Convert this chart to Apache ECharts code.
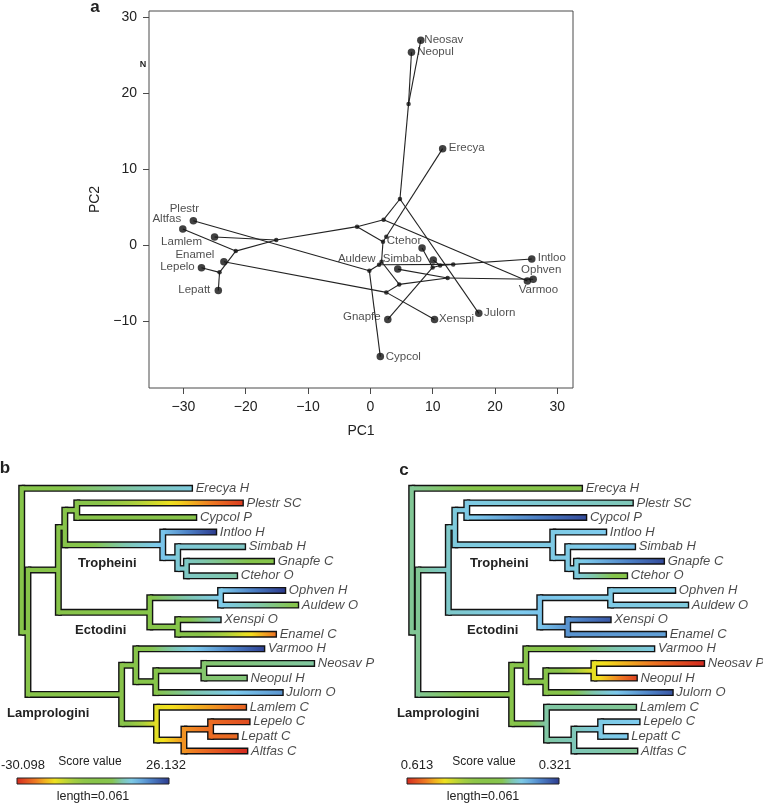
<!DOCTYPE html>
<html><head><meta charset="utf-8">
<script src="https://cdn.jsdelivr.net/npm/echarts@6/dist/echarts.min.js"></script>
<style>html,body{margin:0;padding:0;background:#fff}#chart{width:763px;height:804px}</style>
</head><body><div id="chart"></div>
<script>
// ---------------- DATA ----------------
// nodes 0..18 are tips (top to bottom in the trees), 19..36 internal nodes
const nodeNames = ['Erecya','Plestr','Cypcol','Intloo','Simbab','Gnapfe','Ctehor','Ophven','Auldew','Xenspi','Enamel','Varmoo','Neosav','Neopul','Julorn','Lamlem','Lepelo','Lepatt','Altfas',
  'root','n1','n2','n3','n4','n5','n5a','n5b','n6','n6a','n6b','n7','n7a','n7b','n7c','n7d','n7e','n7f'];
const tipLabels = ['Erecya H','Plestr SC','Cypcol P','Intloo H','Simbab H','Gnapfe C','Ctehor O','Ophven H','Auldew O','Xenspi O','Enamel C','Varmoo H','Neosav P','Neopul H','Julorn O','Lamlem C','Lepelo C','Lepatt C','Altfas C'];
const parentOf = [19,23,23,24,25,26,26,28,28,29,29,31,33,33,32,34,36,36,35,
  -1,19,20,21,22,22,24,25,21,27,27,20,30,31,32,30,34,35];
const branchLength = [0.0682,0.0665,0.0478,0.0213,0.0269,0.0350,0.0202,0.0258,0.0310,0.0171,0.0393,0.0514,0.0441,0.0171,0.0508,0.0358,0.0155,0.0107,0.0253,
  0,0.0025,0.0122,0.0026,0.0048,0.0393,0.0060,0.0035,0.0367,0.0284,0.0112,0.0376,0.0057,0.0080,0.0193,0.0140,0.0110,0.0107];
const pc1 = [11.6,-28.4,1.6,25.9,10.1,2.8,8.3,26.132,4.4,10.3,-23.5,25.2,8.1,6.6,17.4,-25.0,-27.1,-24.4,-30.098,
  2.56,2.03,1.8,1.4,-0.16,13.3,11.2,10.0,4.64,12.4,2.56,-2.13,2.13,4.75,6.13,-15.1,-21.6,-24.2];
const pc2 = [12.7,3.2,-14.7,-1.85,-1.98,-9.8,-0.4,-4.5,-3.17,-9.8,-2.2,-4.75,27.0,25.4,-9.0,1.05,-3.0,-6.0,2.1,
  1.1,0.44,-2.2,-2.6,-3.4,-2.55,-2.7,-2.95,-5.19,-4.35,-6.24,2.42,3.34,6.07,18.6,0.66,-0.8,-3.6];
const scoreC = [0.461,0.409,0.330,0.391,0.385,0.330,0.444,0.394,0.397,0.336,0.371,0.394,0.613,0.601,0.336,0.417,0.391,0.391,0.417,
  0.417,0.417,0.403,0.397,0.394,0.394,0.394,0.397,0.388,0.394,0.365,0.447,0.452,0.458,0.537,0.414,0.409,0.394];
const xTicks = [-30,-20,-10,0,10,20,30];
const yTicks = [-10,0,10,20,30];
const rangeB = [-30.098, 26.132];
const rangeC = [0.613, 0.321];
const scaleLength = 0.061;

// ---------------- STYLE ----------------
const paletteStops = [[0,'#d42a20'],[0.12,'#ee7623'],[0.24,'#f4e31e'],[0.36,'#a8cf3f'],[0.46,'#88c34a'],[0.62,'#86c54a'],[0.69,'#7fc7b0'],[0.76,'#7ecbee'],[0.88,'#4c80c6'],[1,'#2c3a8e']];
const labelOffsets = {Neosav:[23,0],Neopul:[24,0],Erecya:[24,-1],Plestr:[-9,-12],Altfas:[-16,-10],Lamlem:[-33,5],Enamel:[-29,-7],Lepelo:[-24,-1],Lepatt:[-24,-1],
  Ctehor:[-18,-7],Simbab:[-31,-1],Auldew:[-41,-10],Intloo:[20,-1],Ophven:[8,-9],Varmoo:[11,9],Julorn:[21,-1],Xenspi:[22,-1],Gnapfe:[-26,-3],Cypcol:[23,0]};
const FONT = 'Liberation Sans, Arial, Helvetica, sans-serif';

function hex2rgb(h){return [parseInt(h.slice(1,3),16),parseInt(h.slice(3,5),16),parseInt(h.slice(5,7),16)];}
function colorAt(f){
  f = Math.max(0, Math.min(1, f));
  for (let k=1;k<paletteStops.length;k++){
    const [f1,c1]=paletteStops[k], [f0,c0]=paletteStops[k-1];
    if (f<=f1){ const t=(f-f0)/(f1-f0||1); const a=hex2rgb(c0), b=hex2rgb(c1);
      return 'rgb('+a.map((v,i)=>Math.round(v+(b[i]-v)*t)).join(',')+')'; }
  }
  return paletteStops[paletteStops.length-1][1];
}
function gradStops(f0,f1){ const s=[]; for(let k=0;k<=16;k++){const t=k/16; s.push({offset:t,color:colorAt(f0+(f1-f0)*t)});} return s; }

// ---------------- TREE LAYOUT ----------------
const N = nodeNames.length;
const children = Array.from({length:N},()=>[]);
parentOf.forEach((p,i)=>{ if(p>=0) children[p].push(i); });
const depth = new Array(N).fill(null);
function getDepth(i){ if(depth[i]!==null) return depth[i]; const p=parentOf[i]; depth[i]= p<0?0:getDepth(p)+branchLength[i]; return depth[i]; }
const yPos = new Array(N).fill(null);
function getY(i){ if(yPos[i]!==null) return yPos[i]; if(!children[i].length){yPos[i]=i;} else {const ys=children[i].map(getY); yPos[i]=(Math.min(...ys)+Math.max(...ys))/2;} return yPos[i]; }
for(let i=0;i<N;i++){getDepth(i);getY(i);}

function segments(vals){
  const out=[];
  for(let i=0;i<N;i++){const p=parentOf[i]; if(p>=0) out.push([depth[p],depth[i],yPos[i],yPos[i],vals[p],vals[i],0]);}
  for(let i=0;i<N;i++){ if(children[i].length){const ys=children[i].map(c=>yPos[c]); out.push([depth[i],depth[i],Math.min(...ys),Math.max(...ys),vals[i],vals[i],1]);} }
  return out;
}
function treeSeries(ax, vals, toF, outline){
  return {type:'custom', coordinateSystem:'cartesian2d', xAxisIndex:ax, yAxisIndex:ax, silent:true, clip:false,
    z: outline?2:3, encode:{x:[0,1],y:[2,3]}, data: segments(vals),
    renderItem(params, api){
      const a=api.coord([api.value(0),api.value(2)]), b=api.coord([api.value(1),api.value(3)]);
      const kind=api.value(6), hw=2.1, o=outline?1.4:0;
      let shape, fill;
      if(kind===0){ shape={x:a[0], y:a[1]-hw-o, width:b[0]-a[0]+o, height:2*(hw+o)}; }
      else { const t=Math.min(a[1],b[1]), bt=Math.max(a[1],b[1]); shape={x:a[0]-hw-o, y:t-hw-o, width:2*(hw+o), height:bt-t+2*(hw+o)}; }
      if(outline) fill='#121212';
      else if(kind===0) fill=new echarts.graphic.LinearGradient(0,0,1,0,gradStops(toF(api.value(4)),toF(api.value(5))));
      else fill=colorAt(toF(api.value(4)));
      return {type:'rect', shape, style:{fill}};
    }};
}
function tipLabelSeries(ax){
  return {type:'scatter', xAxisIndex:ax, yAxisIndex:ax, symbolSize:0, silent:true, z:4,
    data: tipLabels.map((t,i)=>({value:[depth[i],yPos[i]], name:t})),
    label:{show:true, position:'right', distance:4, formatter:p=>p.name, fontFamily:FONT, fontStyle:'italic', fontSize:13, color:'#1a1a1a'}};
}
const fB = v => (v-rangeB[0])/(rangeB[1]-rangeB[0]);
const fC = v => (rangeC[0]-v)/(rangeC[0]-rangeC[1]);

// ---------------- PHYLOMORPHOSPACE ----------------
const edgeData=[]; for(let i=0;i<N;i++){const p=parentOf[i]; if(p>=0) edgeData.push({coords:[[pc1[p],pc2[p]],[pc1[i],pc2[i]]]});}
const tipPts = nodeNames.slice(0,19).map((n,i)=>({value:[pc1[i],pc2[i]], name:n,
  label:{offset:labelOffsets[n]}}));
const nodePts = nodeNames.slice(19).map((n,k)=>[pc1[19+k],pc2[19+k]]);

const treeW = 0.12*2492; // px for 0.12 units
const minus = v => String(v).replace('-','\u2212');
const hiddenX = (g)=>({gridIndex:g,type:'value',min:0,max:0.12,show:false});
const hiddenY = (g)=>({gridIndex:g,type:'value',min:0,max:18,inverse:true,show:false});

const barGrad = new echarts.graphic.LinearGradient(0,0,1,0,gradStops(0,1));
function txt(x,y,s,opt){ return Object.assign({type:'text', x, y, style:Object.assign({text:s, fontFamily:FONT, fontSize:12, fill:'#222', align:'center', verticalAlign:'middle'}, opt||{})}); }

const option = {
  animation:false,
  backgroundColor:'#fff',
  grid:[
    {left:149, top:11, width:424, height:377, show:true, borderColor:'#4a4a4a', borderWidth:1},
    {left:21.7, top:488.3, width:treeW, height:262.7},
    {left:411.7, top:488.3, width:treeW, height:262.7}
  ],
  xAxis:[
    {gridIndex:0,type:'value',min:-35.52,max:32.52,axisLine:{show:false,onZero:false},splitLine:{show:false},
      axisTick:{show:true,customValues:xTicks,length:6,lineStyle:{color:'#4a4a4a'}},
      axisLabel:{customValues:xTicks,fontSize:14,fontFamily:FONT,color:'#222',margin:12,formatter:minus},
      name:'PC1',nameLocation:'middle',nameGap:36,nameTextStyle:{fontSize:14,fontFamily:FONT,color:'#222'}},
    hiddenX(1), hiddenX(2)
  ],
  yAxis:[
    {gridIndex:0,type:'value',min:-18.84,max:30.84,axisLine:{show:false,onZero:false},splitLine:{show:false},
      axisTick:{show:true,customValues:yTicks,length:6,lineStyle:{color:'#4a4a4a'}},
      axisLabel:{customValues:yTicks,fontSize:14,fontFamily:FONT,color:'#222',margin:12,formatter:minus},
      name:'PC2',nameLocation:'middle',nameGap:44,nameTextStyle:{fontSize:14,fontFamily:FONT,color:'#222'}},
    hiddenY(1), hiddenY(2)
  ],
  series:[
    {type:'lines', coordinateSystem:'cartesian2d', xAxisIndex:0, yAxisIndex:0, silent:true, z:2,
      lineStyle:{color:'#222', width:1.1, opacity:1, curveness:0}, data:edgeData},
    {type:'scatter', xAxisIndex:0, yAxisIndex:0, symbolSize:4.5, itemStyle:{color:'#111'}, silent:true, z:3, data:nodePts},
    {type:'scatter', xAxisIndex:0, yAxisIndex:0, symbolSize:7.5, itemStyle:{color:'#111'}, silent:true, z:3, data:tipPts,
      label:{show:true, position:'inside', formatter:p=>p.name, fontFamily:FONT, fontSize:11.5, color:'#222'}},
    treeSeries(1, pc1, fB, true), treeSeries(1, pc1, fB, false), tipLabelSeries(1),
    treeSeries(2, scoreC, fC, true), treeSeries(2, scoreC, fC, false), tipLabelSeries(2)
  ],
  graphic:[
    txt(95,7,'a',{fontSize:17,fontWeight:'bold'}),
    txt(143,65,'N',{fontSize:9,fontWeight:'bold'}),
    txt(5,468,'b',{fontSize:17,fontWeight:'bold'}),
    txt(404,470,'c',{fontSize:17,fontWeight:'bold'}),
    txt(78,563,'Tropheini',{fontSize:13,fontWeight:'bold',align:'left'}),
    txt(75,630,'Ectodini',{fontSize:13,fontWeight:'bold',align:'left'}),
    txt(7,713,'Lamprologini',{fontSize:13,fontWeight:'bold',align:'left'}),
    txt(470,563,'Tropheini',{fontSize:13,fontWeight:'bold',align:'left'}),
    txt(467,630,'Ectodini',{fontSize:13,fontWeight:'bold',align:'left'}),
    txt(397,713,'Lamprologini',{fontSize:13,fontWeight:'bold',align:'left'}),
    {type:'rect', shape:{x:17,y:778,width:scaleLength*2492,height:6}, style:{fill:barGrad, stroke:'#222', lineWidth:1}},
    {type:'rect', shape:{x:407,y:778,width:scaleLength*2492,height:6}, style:{fill:barGrad, stroke:'#222', lineWidth:1}},
    txt(23,765,String(rangeB[0]),{fontSize:13}),
    txt(90,762,'Score value',{fontSize:12}),
    txt(166,765,String(rangeB[1]),{fontSize:13}),
    txt(93,797,'length='+scaleLength,{fontSize:12.5}),
    txt(417,765,String(rangeC[0]),{fontSize:13}),
    txt(484,762,'Score value',{fontSize:12}),
    txt(555,765,String(rangeC[1]),{fontSize:13}),
    txt(483,797,'length='+scaleLength,{fontSize:12.5})
  ]
};
const chart = echarts.init(document.getElementById('chart'), null, {renderer:'canvas'});
chart.setOption(option);
</script></body></html>
